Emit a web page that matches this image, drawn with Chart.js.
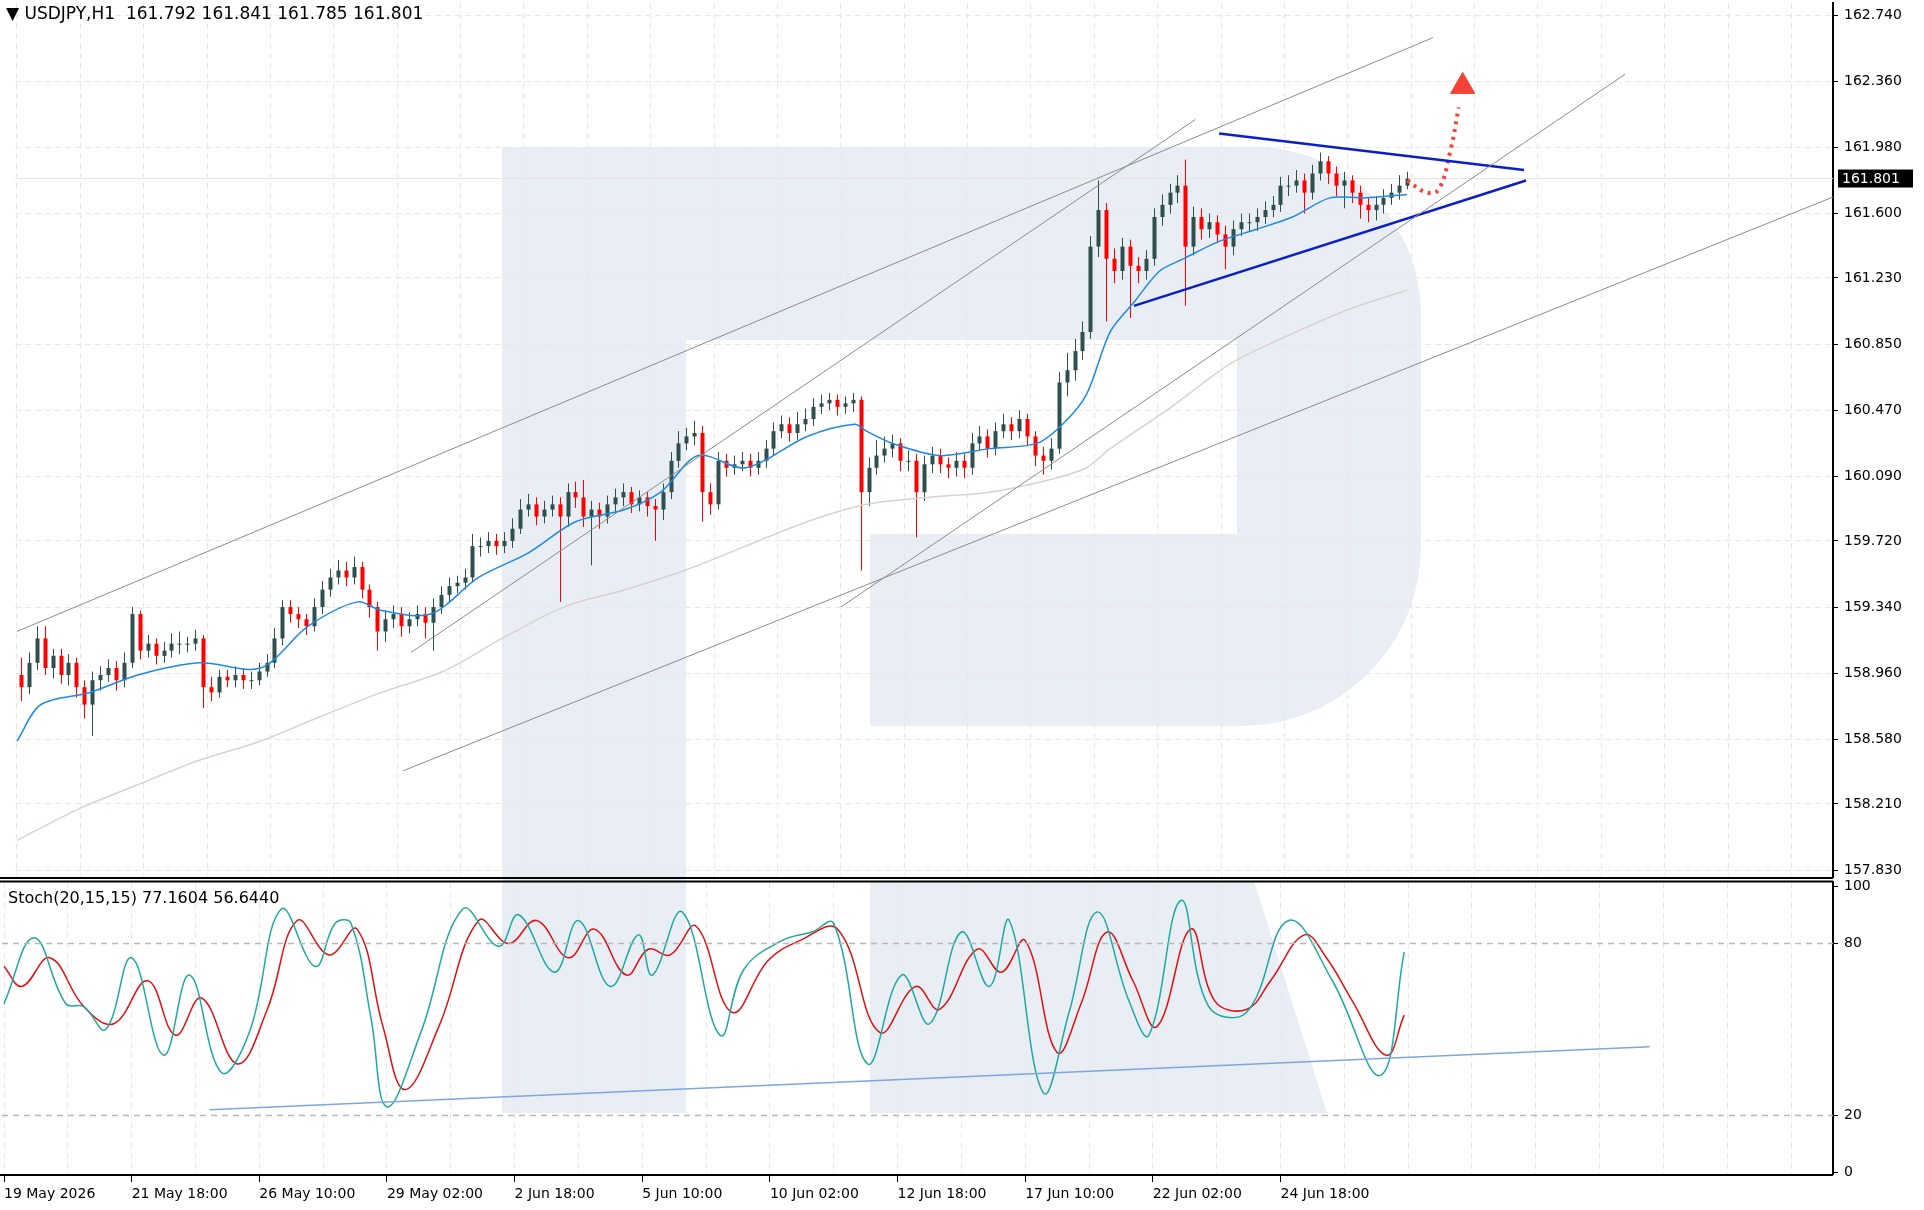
<!DOCTYPE html>
<html lang="en">
<head>
<meta charset="UTF-8">
<title>USDJPY H1</title>
<script src="https://cdn.jsdelivr.net/npm/chart.js"></script>
<style>
  body { margin: 0; background: #fff; width: 1924px; height: 1210px; overflow: hidden; position: relative; font-family: "DejaVu Sans", sans-serif; }
  #logo { position: absolute; left: 0; top: 0; }
  #priceBox { position: absolute; left: 0; top: -12px; width: 1924px; height: 904px; }
  #stochBox { position: absolute; left: 0; top: 868px; width: 1924px; height: 338px; }
  .label { position: absolute; color: #000; white-space: pre; }
</style>
</head>
<body>
<svg id="logo" width="1924" height="1210">
  <path fill="#e9eef5" d="M502 147 H1254 A167 167 0 0 1 1421 314 V546 A180 180 0 0 1 1241 726 H870 V534 H1237 V340 H686 V1113 H502 Z"/>
  <path fill="#e9eef5" d="M870 881 H1254 L1327 1113 H870 Z"/>
</svg>
<div id="priceBox"><canvas id="price" width="1924" height="904"></canvas></div>
<div id="stochBox"><canvas id="stoch" width="1924" height="338"></canvas></div>
<div class="label" style="left:6px;top:3px;font-size:17px;">&#9660; USDJPY,H1  161.792 161.841 161.785 161.801</div>
<div class="label" style="left:8px;top:888px;font-size:16px;">Stoch(20,15,15) 77.1604 56.6440</div>
<script>
// x values are hourly bar indexes, candles are grouped by 4 hours
const firstOpen = 158.95;
const closes = [
  158.88,159.02,159.16,158.99,159.06,158.95,159.02,158.88,158.78,158.92,
  158.95,158.99,158.92,159.02,159.30,159.09,159.13,159.06,159.09,159.13,
  159.13,159.13,159.16,158.88,158.85,158.94,158.92,158.95,158.92,158.92,
  158.97,159.02,159.16,159.34,159.30,159.27,159.23,159.34,159.44,159.51,
  159.55,159.51,159.57,159.44,159.34,159.20,159.27,159.30,159.23,159.27,
  159.30,159.25,159.34,159.41,159.46,159.48,159.51,159.69,159.69,159.72,
  159.69,159.72,159.79,159.90,159.93,159.86,159.90,159.93,159.86,160.00,
  159.97,159.86,159.90,159.86,159.93,159.97,160.00,159.93,159.97,159.92,
  159.90,160.00,160.18,160.28,160.32,160.34,160.00,159.93,160.18,160.14,
  160.16,160.18,160.14,160.18,160.25,160.35,160.39,160.34,160.39,160.42,
  160.49,160.51,160.53,160.49,160.51,160.53,160.00,160.14,160.21,160.25,
  160.28,160.18,160.18,160.00,160.16,160.21,160.16,160.14,160.18,160.14,
  160.28,160.32,160.25,160.35,160.39,160.35,160.42,160.32,160.21,160.18,
  160.25,160.63,160.70,160.81,160.92,161.41,161.62,161.34,161.27,161.41,
  161.30,161.27,161.34,161.58,161.65,161.72,161.76,161.41,161.58,161.51,
  161.55,161.48,161.41,161.51,161.55,161.55,161.58,161.62,161.65,161.76,
  161.76,161.79,161.72,161.83,161.90,161.83,161.76,161.79,161.72,161.65,
  161.62,161.65,161.69,161.72,161.76,161.80
];
const highs = [
  159.05,159.08,159.23,159.23,159.10,159.10,159.07,159.05,158.92,158.97,
  159.00,159.04,159.03,159.08,159.34,159.32,159.18,159.16,159.14,159.19,
  159.20,159.17,159.21,159.18,158.94,158.98,158.98,159.00,158.99,158.97,
  159.02,159.07,159.22,159.38,159.38,159.34,159.30,159.39,159.49,159.56,
  159.61,159.60,159.63,159.60,159.47,159.37,159.32,159.35,159.34,159.31,
  159.35,159.34,159.39,159.46,159.51,159.52,159.56,159.76,159.74,159.77,
  159.76,159.77,159.85,159.96,159.99,159.97,159.95,159.98,159.97,160.05,
  160.06,160.07,159.95,159.94,159.98,160.02,160.05,160.03,160.01,160.00,
  159.96,160.05,160.23,160.35,160.37,160.41,160.38,160.05,160.23,160.22,
  160.21,160.23,160.22,160.23,160.30,160.40,160.44,160.43,160.46,160.48,
  160.54,160.56,160.57,160.56,160.55,160.57,160.55,160.20,160.30,160.32,
  160.33,160.31,160.24,160.22,160.21,160.26,160.25,160.20,160.23,160.22,
  160.34,160.38,160.36,160.40,160.45,160.43,160.47,160.45,160.35,160.26,
  160.31,160.69,160.80,160.88,160.98,161.47,161.79,161.66,161.40,161.46,
  161.45,161.35,161.39,161.63,161.71,161.77,161.82,161.91,161.64,161.63,
  161.60,161.59,161.53,161.56,161.60,161.60,161.63,161.67,161.70,161.81,
  161.82,161.85,161.83,161.88,161.95,161.93,161.87,161.84,161.82,161.76,
  161.69,161.70,161.74,161.77,161.82,161.84
];
const lows = [
  158.80,158.84,158.98,158.95,158.93,158.90,158.89,158.82,158.70,158.60,
  158.86,158.91,158.86,158.88,158.99,159.04,159.05,159.01,159.02,159.05,
  159.07,159.08,159.09,158.76,158.80,158.82,158.88,158.88,158.87,158.87,
  158.89,158.94,158.99,159.12,159.25,159.22,159.18,159.20,159.30,159.40,
  159.47,159.46,159.47,159.39,159.28,159.09,159.14,159.22,159.17,159.19,
  159.23,159.16,159.09,159.30,159.37,159.42,159.44,159.48,159.63,159.65,
  159.64,159.65,159.68,159.76,159.86,159.81,159.82,159.86,159.37,159.80,
  159.91,159.80,159.58,159.79,159.82,159.89,159.92,159.88,159.89,159.86,
  159.72,159.84,159.96,160.14,160.24,160.27,159.83,159.87,159.90,160.09,
  160.10,160.12,160.09,160.10,160.14,160.21,160.31,160.29,160.30,160.35,
  160.38,160.45,160.47,160.44,160.45,160.46,159.55,159.92,160.10,160.17,
  160.20,160.12,160.12,159.74,159.95,160.11,160.11,160.08,160.09,160.08,
  160.10,160.24,160.20,160.21,160.31,160.30,160.31,160.27,160.15,160.10,
  160.13,160.22,160.55,160.64,160.76,160.88,161.35,160.98,161.20,161.22,
  161.00,161.20,161.22,161.30,161.53,161.60,161.66,161.07,161.36,161.45,
  161.46,161.43,161.28,161.36,161.47,161.50,161.50,161.54,161.58,161.61,
  161.70,161.72,161.60,161.68,161.79,161.77,161.70,161.63,161.66,161.57,
  161.55,161.56,161.60,161.65,161.68,161.74
];

const maFastX = [0,12,37,61,92,123,147,172,184,209,233,258,282,307,325,344,368,399,423,429,442,466,491,515,528,540,552,564,577,589,607,626,644,663,681,702];
const maFastY = [158.57,158.78,158.85,158.95,159.02,158.99,159.23,159.37,159.32,159.30,159.51,159.65,159.83,159.90,160.00,160.21,160.14,160.32,160.39,160.35,160.28,160.21,160.25,160.28,160.39,160.56,160.92,161.09,161.27,161.34,161.44,161.51,161.58,161.69,161.69,161.71];
const maSlowX = [0,31,61,92,123,153,184,215,245,276,307,337,368,399,429,460,491,521,540,552,583,613,644,675,702];
const maSlowY = [158.00,158.18,158.32,158.46,158.57,158.71,158.85,158.97,159.16,159.34,159.44,159.55,159.69,159.83,159.93,159.97,160.00,160.07,160.14,160.25,160.49,160.74,160.91,161.06,161.16];

const channelLines = [
  [[0,159.20],[715,162.61]],
  [[199,159.08],[595,162.14]],
  [[416,159.34],[812,162.40]],
  [[195,158.40],[962,161.90]]
];
const triangleLines = [
  [[607,162.06],[761,161.85]],
  [[564,161.07],[762,161.79]]
];
const forecastPath = [[702,161.79],[712,161.72],[718,161.74],[724,161.97],[728,162.21]];
const forecastHead = [730,162.33];
const lastPrice = 161.801;
const priceTicks = [162.740,162.360,161.980,161.600,161.230,160.850,160.470,160.090,159.720,159.340,158.960,158.580,158.210,157.830];

const stochKX = [0,15,31,40,51,64,80,93,109,123,139,156,166,174,184,192,209,230,248,258,276,288,304,318,325,340,359,371,390,405,416,433,450,464,480,494,504,521,534,548,564,574,590,604,623,644,666,690,702];
const stochKY = [59,82,59,58,50,75,41,69,35,49,92,72,87,87,54,23,49,92,79,90,70,88,65,83,69,91,48,71,81,84,87,38,69,52,84,65,88,28,56,91,60,48,95,58,56,88,67,34,77];
const stochDX = [0,9,23,40,55,72,86,99,117,132,147,163,177,190,201,218,238,253,267,283,296,312,323,334,347,365,383,399,418,439,457,469,488,500,512,528,540,553,566,578,595,607,623,635,652,663,676,693,702];
const stochDY = [72,65,75,58,52,67,48,61,38,57,88,76,85,51,29,51,88,80,88,75,85,69,78,76,86,56,74,81,85,49,65,57,78,70,81,42,59,84,67,51,85,60,57,67,83,75,60,41,55];
const stochTrend = [[103,22],[825,44]];
const stochLevels = [20, 80];
const stochTicks = [0, 20, 80, 100];

const dateLabels = ['19 May 2026','21 May 18:00','26 May 10:00','29 May 02:00','2 Jun 18:00','5 Jun 10:00','10 Jun 02:00','12 Jun 18:00','17 Jun 10:00','22 Jun 02:00','24 Jun 18:00'];

Chart.defaults.font.family = '"DejaVu Sans", sans-serif';
Chart.defaults.font.size = 14;
Chart.defaults.color = '#000';
Chart.defaults.animation = false;

const X_MIN = -1, X_MAX = 917;
const gridDash = { color: '#e8e8e8', dash: [6, 4] };

function pts(xs, ys) { return xs.map((x, i) => ({ x: x, y: ys[i] })); }
function seg(s) { return s.map(p => ({ x: p[0], y: p[1] })); }
function lineDs(data, color, width, extra) {
  return Object.assign({ data: data, borderColor: color, borderWidth: width, pointRadius: 0, fill: false, tension: 0 }, extra || {});
}

const candlePlugin = {
  id: 'candles',
  beforeDatasetsDraw(chart) {
    const { ctx, chartArea, scales: { x, y } } = chart;
    ctx.save();
    ctx.beginPath();
    ctx.rect(chartArea.left, chartArea.top, chartArea.right - chartArea.left, chartArea.bottom - chartArea.top);
    ctx.clip();
    // current price line
    ctx.strokeStyle = '#e4e4e4';
    ctx.lineWidth = 1;
    ctx.beginPath();
    ctx.moveTo(chartArea.left, y.getPixelForValue(lastPrice));
    ctx.lineTo(chartArea.right, y.getPixelForValue(lastPrice));
    ctx.stroke();
    closes.forEach((c, k) => {
      const o = k === 0 ? firstOpen : closes[k - 1];
      const cx = Math.round(x.getPixelForValue(k * 4 + 2)) + 0.5;
      const col = c >= o ? '#2f4f4f' : '#ff0000';
      ctx.strokeStyle = col;
      ctx.fillStyle = col;
      ctx.beginPath();
      ctx.moveTo(cx, y.getPixelForValue(highs[k]));
      ctx.lineTo(cx, y.getPixelForValue(lows[k]));
      ctx.stroke();
      const top = y.getPixelForValue(Math.max(o, c));
      const bot = y.getPixelForValue(Math.min(o, c));
      ctx.fillRect(cx - 2, top, 4, Math.max(1, bot - top));
    });
    ctx.restore();
  },
  afterDraw(chart) {
    const { ctx, chartArea, scales: { y } } = chart;
    ctx.save();
    ctx.strokeStyle = '#000';
    ctx.lineWidth = 2;
    ctx.beginPath();
    ctx.moveTo(0, chartArea.bottom + 1);
    ctx.lineTo(chartArea.right, chartArea.bottom + 1);
    ctx.stroke();
    const py = y.getPixelForValue(lastPrice);
    ctx.fillStyle = '#000';
    ctx.fillRect(chartArea.right + 5, py - 9, 75, 18);
    ctx.fillStyle = '#fff';
    ctx.font = '14px "DejaVu Sans"';
    ctx.textBaseline = 'middle';
    ctx.fillText(lastPrice.toFixed(3), chartArea.right + 9, py + 1);
    ctx.restore();
  }
};

new Chart(document.getElementById('price'), {
  type: 'line',
  data: {
    datasets: [
      ...channelLines.map(s => lineDs(seg(s), '#8a8a8a', 1)),
      lineDs(pts(maSlowX, maSlowY), '#dcd0d0', 1.5, { tension: 0.3 }),
      lineDs(pts(maFastX, maFastY), '#1e88e5', 1.5, { tension: 0.3 }),
      ...triangleLines.map(s => lineDs(seg(s), '#0a1fc8', 2.5)),
      lineDs(seg(forecastPath), '#f44336', 4, { borderDash: [3, 5], tension: 0.4 }),
      { data: [{ x: forecastHead[0], y: forecastHead[1] }], pointStyle: 'triangle', pointRadius: 14, backgroundColor: '#f44336', borderColor: '#f44336', showLine: false }
    ]
  },
  options: {
    responsive: false,
    devicePixelRatio: 1,
    layout: { padding: 0 },
    plugins: { legend: { display: false }, tooltip: { enabled: false } },
    scales: {
      x: {
        type: 'linear', min: X_MIN, max: X_MAX,
        afterBuildTicks: s => { s.ticks = []; for (let v = 0; v <= X_MAX; v += 32) s.ticks.push({ value: v }); },
        ticks: { display: false },
        grid: { color: gridDash.color, drawTicks: false },
        border: { display: false, dash: gridDash.dash },
        afterFit: s => { s.height = 2; }
      },
      y: {
        position: 'right', min: 157.79, max: 162.809,
        afterBuildTicks: s => { s.ticks = priceTicks.map(v => ({ value: v })); },
        ticks: { callback: v => v.toFixed(3), padding: 6, font: { size: 14 } },
        grid: { color: gridDash.color, tickLength: 5, tickColor: '#000' },
        border: { color: '#000', width: 2, dash: gridDash.dash },
        afterFit: s => { s.width = 91; }
      }
    }
  },
  plugins: [candlePlugin]
});

const stochPlugin = {
  id: 'stochFrame',
  afterDraw(chart) {
    const { ctx, chartArea } = chart;
    ctx.save();
    ctx.strokeStyle = '#000';
    ctx.lineWidth = 2;
    ctx.beginPath();
    ctx.moveTo(0, chartArea.top - 1);
    ctx.lineTo(chartArea.right, chartArea.top - 1);
    ctx.moveTo(0, chartArea.bottom + 1);
    ctx.lineTo(chartArea.right, chartArea.bottom + 1);
    ctx.stroke();
    ctx.restore();
  }
};

new Chart(document.getElementById('stoch'), {
  type: 'line',
  data: {
    datasets: [
      ...stochLevels.map(l => lineDs([{ x: X_MIN, y: l }, { x: X_MAX, y: l }], '#b8b8b8', 1.5, { borderDash: [6, 5] })),
      lineDs(seg(stochTrend), '#7ea6e0', 1.5),
      lineDs(pts(stochKX, stochKY), '#20a8a0', 1.5, { tension: 0.4 }),
      lineDs(pts(stochDX, stochDY), '#e01010', 1.5, { tension: 0.4 })
    ]
  },
  options: {
    responsive: false,
    devicePixelRatio: 1,
    layout: { padding: { top: 3, bottom: 0, left: 0, right: 0 } },
    plugins: { legend: { display: false }, tooltip: { enabled: false } },
    scales: {
      x: {
        type: 'linear', min: X_MIN, max: X_MAX,
        afterBuildTicks: s => { s.ticks = []; for (let v = 0; v <= X_MAX; v += 32) s.ticks.push({ value: v }); },
        ticks: {
          autoSkip: false, maxRotation: 0, padding: 4, align: 'start',
          callback: v => (v % 64 === 0 && dateLabels[v / 64]) ? dateLabels[v / 64] : ''
        },
        grid: {
          color: gridDash.color, tickLength: 8,
          tickColor: ctx => (ctx.tick && ctx.tick.value % 64 === 0 && ctx.tick.value / 64 < dateLabels.length) ? '#000' : 'rgba(0,0,0,0)'
        },
        border: { display: false, dash: gridDash.dash },
        afterFit: s => { s.height = 32; }
      },
      y: {
        position: 'right', min: -0.4, max: 101.3,
        afterBuildTicks: s => { s.ticks = stochTicks.map(v => ({ value: v })); },
        ticks: { padding: 6, font: { size: 14 } },
        grid: { color: 'rgba(0,0,0,0)', tickLength: 5, tickColor: '#000' },
        border: { color: '#000', width: 2 },
        afterFit: s => { s.width = 91; }
      }
    }
  },
  plugins: [stochPlugin]
});
</script>
</body>
</html>
